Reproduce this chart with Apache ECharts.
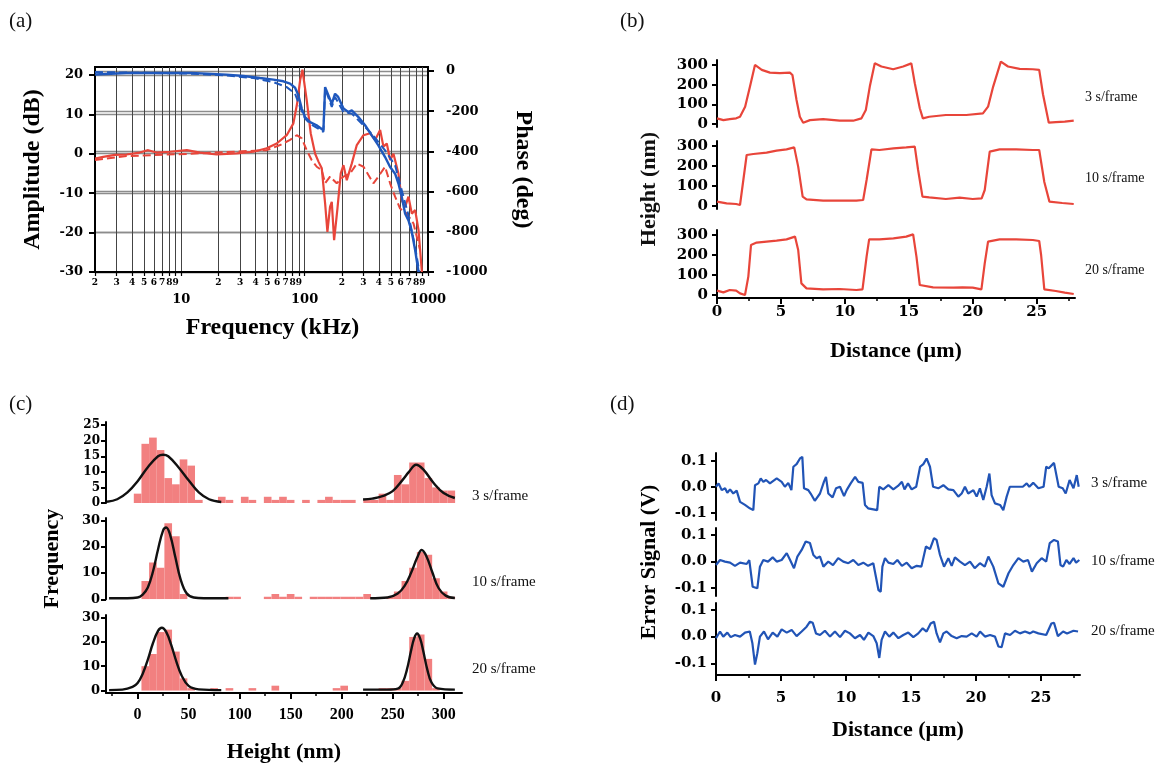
<!DOCTYPE html>
<html>
<head>
<meta charset="utf-8">
<script src="https://cdn.jsdelivr.net/npm/echarts@6/dist/echarts.min.js"></script>
<style>
html, body { margin: 0; padding: 0; background: #fff; }
#chart { width: 1164px; height: 764px; }
</style>
</head>
<body>
<div id="chart"></div>
<script>
// ------------------------------------------ data: (a) frequency response
var freqTicks = [2, 3, 4, 5, 6, 7, 8, 9, 10, 20, 30, 40, 50, 60, 70, 80, 90, 100,
                 200, 300, 400, 500, 600, 700, 800, 900, 1000];
var decadeTicks = [10, 100, 1000];
var ampTicks = [-30, -20, -10, 0, 10, 20];
var phaseTicks = [-1000, -800, -600, -400, -200, 0];

// [kHz, dB]
var ampSolid = [[2, -1.2], [2.33, -0.8], [2.9, -0.3], [3.6, -0.2], [4.6, 0.3], [5.4, 0.9], [6.3, 0.3],
  [8.1, 0.5], [11.1, 0.9], [14.2, 0.3], [19.4, -0.2], [28.2, 0.1], [38.5, 0.5], [49.3, 1.4], [59.4, 2.6],
  [71.6, 4.7], [81.1, 7.7], [87, 12.8], [92, 18.7], [96, 21.3], [104, 13.6], [112, 5.2], [121.7, 0],
  [129.5, -2], [137.7, -3.7], [146.6, -12.6], [153, -19.8], [160.7, -13.5], [166, -12.2], [173.4, -21.9],
  [184.5, -13.9], [196.3, -5], [206.5, -2.9], [219.7, -6.7], [241, -2.5], [264.8, 2.2], [299.9, 4.7],
  [339.6, 5.2], [372.5, 3.5], [409.3, 6], [435.5, 1.8], [463.5, 2.6], [493.4, -1.6], [525, 0],
  [575.7, -5], [613.3, -11.8], [652.7, -13.5], [694.6, -10.9], [739.4, -15.2], [787, -14.3],
  [838, -19.4], [892, -30]];
var ampDashed = [[2, -1.6], [3.6, -0.6], [12, 0], [49.3, 0.9], [63.2, 2.2], [76.2, 3.5], [86.3, 4.7],
  [94.8, 3.9], [104, 0.9], [114, -1.6], [125.4, -3.3], [137.7, -4.2], [146.6, -7.5], [160.7, -5.8],
  [182, -7.5], [206.5, -5.8], [234, -5], [264.8, -2.5], [300, -3.3], [329, -5.4], [361, -7.5],
  [396, -5.8], [449, -3.3], [493, -7.5], [541, -10.9], [594, -13.9], [673, -15.2], [763, -17.7],
  [864, -24.5]];
// [kHz, deg]
var phaseSolid = [[2, -17], [3.6, -10], [6.5, -10], [12, -10], [16, -13], [23.3, -18], [31.9, -25],
  [43.5, -35], [55.8, -43], [67.3, -51], [76.2, -63], [83.7, -83], [89, -121], [94.8, -187],
  [100.8, -229], [110.7, -254], [125, -270], [142, -295], [146.6, -80], [156, -121], [166, -163],
  [176.5, -113], [187, -129], [206.5, -187], [226, -204], [241, -196], [273, -229], [309, -270],
  [350, -320], [396, -370], [449, -428], [493, -478], [541, -511], [576, -560], [613, -627],
  [653, -710], [695, -743], [739, -801], [787, -892], [838, -1000]];
var phaseDashed = [[2, -5], [12, -13], [23.3, -22], [38.5, -35], [55.8, -55], [71.6, -80], [83.7, -113],
  [91.8, -179], [100.8, -237], [110.7, -262], [125, -282], [142, -303], [146.6, -88], [166, -179],
  [176.5, -129], [206.5, -204], [241, -212], [273, -245], [350, -312], [449, -395], [541, -469],
  [613, -594], [695, -718], [787, -876], [850, -1000]];

// ------------------------------------------ data: (b) height profiles [um, nm]
var heightTicks = [0, 100, 200, 300];
var distTicks = [0, 5, 10, 15, 20, 25];
var distMinor = [2.5, 7.5, 12.5, 17.5, 22.5, 27.5];
var height3 = [[0, 29], [0.5, 20], [1.0, 25], [1.5, 29], [1.8, 37], [2.2, 88], [2.58, 190], [2.97, 300],
  [3.5, 275], [4.14, 261], [4.92, 258], [5.7, 261], [5.9, 249], [6.22, 122], [6.48, 37], [6.74, 7],
  [7.27, 20], [8.3, 25], [9.6, 17], [10.65, 17], [11.3, 29], [11.64, 71], [11.95, 190], [12.34, 308],
  [12.86, 292], [13.78, 278], [14.56, 292], [15.2, 308], [15.47, 207], [15.86, 80], [16.1, 29],
  [16.6, 37], [17.9, 46], [19.5, 46], [20.8, 54], [21.2, 88], [21.6, 190], [22.2, 317], [22.76, 292],
  [23.67, 280], [24.7, 278], [25.2, 275], [25.5, 150], [25.95, 7], [26.5, 10], [27.2, 12], [27.9, 17]];
var height10 = [[0, 22], [0.75, 13], [1.5, 10], [1.8, 5], [2.06, 130], [2.32, 255], [2.84, 260],
  [3.88, 267], [4.66, 277], [5.44, 283], [6.04, 293], [6.35, 197], [6.7, 47], [7.0, 33], [8.3, 27],
  [9.6, 27], [10.9, 27], [11.43, 30], [11.7, 130], [12.08, 283], [12.7, 280], [13.8, 288], [14.8, 293],
  [15.47, 297], [15.73, 180], [16.07, 47], [16.6, 43], [17.9, 35], [18.98, 42], [20.0, 35], [20.7, 38],
  [20.94, 80], [21.33, 272], [22.1, 283], [23.4, 283], [24.7, 280], [25.2, 280], [25.6, 120],
  [26.0, 22], [27.0, 15], [27.9, 10]];
var height20 = [[0, 22], [0.5, 13], [1.0, 25], [1.5, 22], [1.8, 8], [2.19, 0], [2.45, 92], [2.66, 250],
  [3.1, 262], [3.88, 267], [4.66, 272], [5.44, 278], [6.1, 292], [6.35, 225], [6.6, 58], [7.0, 33],
  [8.3, 28], [9.6, 30], [10.9, 25], [11.38, 28], [11.7, 192], [11.9, 278], [12.7, 278], [13.8, 283],
  [14.8, 292], [15.34, 303], [15.6, 192], [15.86, 50], [16.9, 38], [18.5, 37], [19.2, 38], [20.0, 37],
  [20.68, 28], [20.94, 158], [21.2, 267], [22.1, 278], [23.4, 278], [24.7, 275], [25.2, 270],
  [25.35, 200], [25.6, 28], [26.5, 20], [27.2, 12], [27.9, 5]];

// ------------------------------------------ data: (c) height histograms
var binWidth = 7.5;
var binCenters = [0, 7.5, 15, 22.5, 30, 37.5, 45, 52.5, 60, 67.5, 75, 82.5, 90, 97.5, 105, 112.5, 120,
  127.5, 135, 142.5, 150, 157.5, 165, 172.5, 180, 187.5, 195, 202.5, 210, 217.5, 225, 232.5, 240,
  247.5, 255, 262.5, 270, 277.5, 285, 292.5, 300, 307.5, 315];
var count3 = [3, 19, 21, 17, 8, 6, 14, 12, 1, 0, 0, 2, 1, 0, 2, 1, 0, 2, 1, 2, 1, 0, 1, 0, 1, 2, 1, 1,
  1, 0, 1, 1, 3, 1, 9, 6, 13, 13, 8, 5, 4, 4, 0];
var count10 = [0, 7, 14, 12, 29, 24, 2, 0, 0, 0, 0, 0, 1, 1, 0, 0, 0, 1, 2, 1, 2, 1, 0, 1, 1, 1, 1, 1,
  1, 1, 2, 0, 0, 1, 3, 7, 12, 18, 17, 8, 3, 1, 0];
var count20 = [0, 10, 15, 24, 25, 16, 5, 1, 0, 0, 1, 0, 1, 0, 0, 1, 0, 0, 2, 0, 0, 0, 0, 0, 0, 0, 1, 2,
  0, 0, 0, 0, 1, 1, 1, 4, 22, 23, 13, 1, 0, 0, 0];
var histTicks = [0, 50, 100, 150, 200, 250, 300];
var histMinor = [-25, 25, 75, 125, 175, 225, 275];
var freqTicks3 = [0, 5, 10, 15, 20, 25];
var freqTicks30 = [0, 10, 20, 30];
// gaussian fits [nm, count]
var fit3L = [[-30, 0.4], [-20, 1.2], [-10, 3.4], [0, 7], [10, 11.5], [20, 15], [25, 15.5], [30, 15],
  [40, 11.5], [50, 7.3], [60, 3.4], [70, 1.2], [82, 0.3]];
var fit3R = [[221, 1.1], [230, 1.4], [240, 2.2], [250, 3.8], [260, 7.5], [266, 10], [273, 12.3],
  [280, 10.8], [290, 6.5], [300, 3.2], [311, 1.6]];
var fit10L = [[-28, 0.4], [-10, 0.4], [0, 0.7], [5, 1.8], [10, 4.5], [15, 10.5], [20, 19], [25, 26.3],
  [28, 27.4], [32, 24.4], [37, 16], [42, 7.8], [48, 2.3], [55, 0.7], [65, 0.4], [89, 0.4]];
var fit10R = [[228, 0.4], [245, 0.7], [255, 2.2], [262, 5.3], [268, 10], [274, 15.8], [278.5, 18.8],
  [283, 16.5], [289, 10.2], [295, 4.3], [302, 1.4], [311, 0.5]];
var fit20L = [[-28, 0.2], [-15, 0.4], [-5, 1.5], [0, 3.1], [5, 6.9], [10, 12.7], [15, 19.4], [20, 24.5],
  [23.7, 25.8], [28, 24.1], [33, 18.6], [38, 11.9], [43, 6.3], [50, 1.9], [60, 0.5], [82, 0.2]];
var fit20R = [[221, 0.4], [245, 0.4], [255, 0.8], [260, 3.4], [264, 8.6], [268, 16.2], [271, 21.3],
  [274, 23.4], [277, 21.3], [280, 16.2], [284, 8.6], [288, 3.4], [294, 0.9], [311, 0.4]];

// ------------------------------------------ data: (d) error signal [um, V]
var errTicks = [-0.1, 0, 0.1];
var err3 = [[0, 0], [0.2, 0.013], [0.44, -0.013], [0.7, -0.006], [0.87, -0.023], [1.08, -0.01],
  [1.33, -0.026], [1.59, -0.015], [1.85, -0.058], [2.23, -0.07], [2.6, -0.083], [2.87, -0.09],
  [3.0, 0.006], [3.26, 0.013], [3.44, 0.032], [3.64, 0.019], [3.85, 0.026], [4.15, 0.013],
  [4.67, 0.032], [5.05, 0.019], [5.3, 0], [5.56, 0.015], [5.8, -0.013], [5.95, 0.077], [6.2, 0.087],
  [6.46, 0.109], [6.64, 0.115], [6.77, -0.006], [7.1, -0.013], [7.28, -0.026], [7.6, -0.054],
  [8.0, -0.026], [8.3, 0.019], [8.46, 0.038], [8.64, -0.026], [8.97, -0.041], [9.23, -0.006],
  [9.54, 0], [9.85, -0.036], [10.05, -0.013], [10.36, 0.013], [10.7, 0.038], [10.95, 0.019],
  [11.28, 0.015], [11.46, -0.07], [11.7, -0.083], [12.1, -0.087], [12.4, -0.09], [12.56, 0],
  [12.87, -0.01], [13.26, 0.006], [13.64, -0.01], [14.0, 0.003], [14.3, 0.019], [14.5, -0.01],
  [14.77, 0.013], [15.05, -0.01], [15.4, 0], [15.7, 0.077], [15.95, 0.087], [16.2, 0.109],
  [16.46, 0.077], [16.7, 0], [17.1, -0.006], [17.49, 0.006], [17.87, -0.01], [18.26, -0.013],
  [18.64, -0.038], [18.9, -0.026], [19.15, 0], [19.4, -0.026], [19.8, -0.013], [20.05, -0.038],
  [20.3, -0.006], [20.56, -0.051], [20.82, 0], [21.03, 0.051], [21.2, -0.032], [21.46, -0.064],
  [21.85, -0.07], [22.1, -0.09], [22.36, -0.038], [22.6, 0], [23.4, 0], [23.6, 0], [23.9, 0.013],
  [24.1, 0], [24.4, 0.015], [24.8, -0.006], [25.2, 0], [25.4, 0.077], [25.6, 0.071], [26.0, 0.092],
  [26.15, 0.096], [26.36, 0], [26.67, -0.006], [26.9, -0.026], [27.2, 0.026], [27.5, -0.006],
  [27.75, 0.045], [27.9, 0]];
var err10 = [[0, -0.013], [0.31, 0.006], [0.69, 0], [1.08, -0.004], [1.46, -0.016], [1.85, -0.004],
  [2.36, -0.009], [2.56, 0.006], [2.82, -0.095], [3.18, -0.101], [3.38, -0.019], [3.64, 0.006],
  [4.0, 0], [4.36, 0.016], [4.67, 0], [5.05, 0.006], [5.44, 0.032], [5.7, 0.006], [6.0, -0.025],
  [6.26, 0.019], [6.59, 0.044], [6.9, 0.076], [7.23, 0.07], [7.49, 0.025], [7.74, 0.013], [8.0, 0.019],
  [8.26, -0.019], [8.64, 0], [9.0, -0.013], [9.4, 0.013], [9.79, 0], [10.18, -0.006], [10.56, 0.006],
  [10.95, -0.013], [11.33, -0.004], [11.7, -0.016], [12.1, -0.006], [12.3, -0.057], [12.5, -0.108],
  [12.67, -0.114], [12.8, -0.019], [13.0, 0.013], [13.26, -0.004], [13.64, -0.009], [13.95, 0.006],
  [14.3, -0.016], [14.67, -0.004], [15.05, -0.025], [15.44, -0.016], [15.8, -0.019], [16.15, 0.057],
  [16.46, 0.047], [16.77, 0.089], [16.97, 0.082], [17.23, 0.025], [17.54, -0.019], [17.87, 0.013],
  [18.13, -0.016], [18.38, 0.016], [18.77, 0], [19.15, -0.013], [19.54, 0], [19.9, -0.025],
  [20.3, -0.006], [20.67, -0.019], [20.95, 0.019], [21.33, -0.019], [21.72, -0.082], [22.1, -0.095],
  [22.5, -0.044], [22.87, -0.013], [23.26, 0.013], [23.64, 0], [24.0, 0.006], [24.3, -0.038],
  [24.67, -0.006], [25.05, 0.013], [25.4, 0], [25.67, 0.07], [26.0, 0.082], [26.3, 0.076],
  [26.5, -0.013], [26.7, -0.019], [26.95, 0.006], [27.2, -0.009], [27.5, 0.013], [27.7, -0.004],
  [27.95, 0.006]];
var err20 = [[0, -0.006], [0.31, 0.019], [0.56, 0], [0.87, 0.015], [1.13, -0.002], [1.46, 0.006],
  [1.85, 0], [2.23, 0.015], [2.6, 0.019], [2.8, -0.025], [3.0, -0.105], [3.18, -0.062], [3.38, 0],
  [3.69, 0.019], [4.0, -0.01], [4.36, 0.015], [4.72, 0], [5.05, 0.027], [5.44, 0.015], [5.82, 0.025],
  [6.2, 0.002], [6.59, 0.019], [6.97, 0.037], [7.23, 0.056], [7.44, 0.052], [7.69, 0.012], [8.0, 0.006],
  [8.38, 0.022], [8.77, 0], [9.15, 0.019], [9.54, -0.002], [9.92, 0.022], [10.3, 0.012], [10.69, -0.006],
  [11.08, 0.006], [11.38, -0.012], [11.72, 0.015], [12.1, 0.002], [12.36, -0.025], [12.56, -0.08],
  [12.74, -0.012], [13.0, 0.019], [13.33, 0], [13.64, 0.015], [14.03, -0.006], [14.41, 0.006],
  [14.79, 0.015], [15.18, -0.002], [15.56, 0.012], [15.9, 0.031], [16.2, 0.019], [16.51, 0.049],
  [16.77, 0.056], [16.97, 0.012], [17.23, -0.022], [17.49, 0.012], [17.74, 0.019], [18.13, 0.002],
  [18.51, -0.006], [18.9, 0.002], [19.28, 0], [19.67, 0.012], [20.05, 0], [20.31, 0.019], [20.69, 0],
  [21.08, 0.006], [21.46, 0], [21.72, -0.037], [21.97, -0.04], [22.23, 0.012], [22.62, 0.006],
  [23.0, 0.022], [23.38, 0.012], [23.77, 0.019], [24.15, 0.012], [24.4, 0.019], [24.8, 0.012],
  [25.4, 0.006], [25.8, 0.049], [26.0, 0.052], [26.3, 0.002], [26.7, 0.019], [27.0, 0.012],
  [27.5, 0.022], [27.85, 0.019]];

var rateLabels = ['3 s/frame', '10 s/frame', '20 s/frame'];

// ------------------------------------------ styles
var RED = '#e8453a', BLUE = '#1f58bd', DBLUE = '#2154b6', PINK = '#f28080';
var SERIF = 'Liberation Serif', TICKF = 'DejaVu Serif';

function tickLabel(size, extra) {
  var o = { fontFamily: TICKF, fontWeight: 'bold', fontSize: size, color: '#000' };
  for (var k in extra) o[k] = extra[k];
  return o;
}
function nameStyle(size, extra) {
  var o = { fontFamily: SERIF, fontWeight: 'bold', fontSize: size, color: '#000' };
  for (var k in extra) o[k] = extra[k];
  return o;
}
var axLine = { show: true, onZero: false, lineStyle: { color: '#000', width: 2 } };
function log10pts(arr) { return arr.map(function (p) { return [Math.log10(p[0]), p[1]]; }); }
var plain = function (v) { return String(v); };

var logTicks = freqTicks.map(Math.log10);
var logMinorLabels = freqTicks.filter(function (f) { return decadeTicks.indexOf(f) < 0; }).map(Math.log10);
var logDecades = decadeTicks.map(Math.log10);

// ------------------------------------------ grids
var grids = [
  { left: 95, top: 67, width: 333, height: 205, show: true, borderColor: '#000', borderWidth: 2 },
  { left: 717, top: 60, width: 358, height: 67 },
  { left: 717, top: 141, width: 358, height: 68 },
  { left: 717, top: 230, width: 358, height: 68 },
  { left: 106, top: 422, width: 356, height: 81 },
  { left: 106, top: 518, width: 356, height: 81.3 },
  { left: 106, top: 615, width: 356, height: 84.3 },
  { left: 716, top: 453, width: 364, height: 67 },
  { left: 716, top: 528, width: 364, height: 68 },
  { left: 716, top: 603, width: 364, height: 72 }
];

// ------------------------------------------ x axes
function hiddenX(g, min, max) { return { type: 'value', gridIndex: g, min: min, max: max, position: 'bottom', show: false }; }
function minorX(g, min, max, vals) {
  return { type: 'value', gridIndex: g, min: min, max: max, position: 'bottom',
    axisLine: { show: false, onZero: false }, axisLabel: { show: false }, splitLine: { show: false },
    axisTick: { show: true, customValues: vals, length: 3, lineStyle: { color: '#000', width: 1.5 } } };
}
var xAxes = [
  // 0: (a) minor digits + grid
  { type: 'value', gridIndex: 0, min: Math.log10(2), max: 3, position: 'bottom',
    axisLine: axLine,
    axisTick: { show: true, customValues: logTicks, length: 4, lineStyle: { color: '#000', width: 1.2 } },
    axisLabel: { customValues: logMinorLabels, margin: 6,
      formatter: function (v) { return String(Math.round(Math.pow(10, v))).charAt(0); },
      fontFamily: TICKF, fontWeight: 'bold', fontSize: 9, color: '#000' },
    splitLine: { show: true, lineStyle: { color: '#444', width: 1 } },
    name: 'Frequency (kHz)', nameLocation: 'middle', nameGap: 44,
    nameTextStyle: nameStyle(24, { padding: [0, 0, 0, 22] }) },
  // 1: (a) decades
  { type: 'value', gridIndex: 0, min: Math.log10(2), max: 3, position: 'bottom',
    axisLine: { show: false, onZero: false }, axisTick: { show: false }, splitLine: { show: false },
    axisLabel: { customValues: logDecades, margin: 21,
      formatter: function (v) { return String(Math.round(Math.pow(10, v))); },
      fontFamily: TICKF, fontWeight: 'bold', fontSize: 13, color: '#000' } },
  // 2-5: (b)
  hiddenX(1, 0, 28), hiddenX(2, 0, 28),
  { type: 'value', gridIndex: 3, min: 0, max: 28, position: 'bottom', axisLine: axLine,
    axisTick: { show: true, customValues: distTicks, length: 6, lineStyle: { color: '#000', width: 2 } },
    axisLabel: tickLabel(15, { customValues: distTicks, margin: 7 }),
    splitLine: { show: false },
    name: 'Distance (\u00b5m)', nameLocation: 'middle', nameGap: 42, nameTextStyle: nameStyle(22) },
  minorX(3, 0, 28, distMinor),
  // 6-9: (c)
  hiddenX(4, -31, 318), hiddenX(5, -31, 318),
  { type: 'value', gridIndex: 6, min: -31, max: 318, position: 'bottom', axisLine: axLine,
    axisTick: { show: true, customValues: histTicks, length: 6, lineStyle: { color: '#000', width: 2 } },
    axisLabel: { customValues: histTicks, margin: 14, fontFamily: SERIF, fontWeight: 'bold', fontSize: 16, color: '#000' },
    splitLine: { show: false },
    name: 'Height (nm)', nameLocation: 'middle', nameGap: 48, nameTextStyle: nameStyle(22) },
  minorX(6, -31, 318, histMinor),
  // 10-13: (d)
  hiddenX(7, 0, 28), hiddenX(8, 0, 28),
  { type: 'value', gridIndex: 9, min: 0, max: 28, position: 'bottom', axisLine: axLine,
    axisTick: { show: true, customValues: distTicks, length: 6, lineStyle: { color: '#000', width: 2 } },
    axisLabel: tickLabel(15, { customValues: distTicks, margin: 16 }),
    splitLine: { show: false },
    name: 'Distance (\u00b5m)', nameLocation: 'middle', nameGap: 44, nameTextStyle: nameStyle(22) },
  minorX(9, 0, 28, distMinor)
];

// ------------------------------------------ y axes
function stackY(g, min, max, ticks, size, margin, fmt, extra) {
  var o = { type: 'value', gridIndex: g, min: min, max: max, position: 'left', axisLine: axLine,
    axisTick: { show: true, customValues: ticks, length: 5, lineStyle: { color: '#000', width: 2 } },
    axisLabel: tickLabel(size, { customValues: ticks, margin: margin, formatter: fmt || plain }),
    splitLine: { show: false } };
  for (var k in extra) o[k] = extra[k];
  return o;
}
var oneDec = function (v) { return v.toFixed(1); };
var yAxes = [
  // 0-1: (a)
  { type: 'value', gridIndex: 0, min: -30, max: 22, position: 'left',
    axisLine: axLine,
    axisTick: { show: true, customValues: ampTicks, length: 6, lineStyle: { color: '#000', width: 2 } },
    axisLabel: tickLabel(13, { customValues: ampTicks, margin: 12, formatter: plain }),
    splitLine: { show: true, lineStyle: { color: '#8c8c8c', width: 1.3 } },
    name: 'Amplitude (dB)', nameLocation: 'middle', nameGap: 50, nameTextStyle: nameStyle(24) },
  { type: 'value', gridIndex: 0, min: -1000, max: 20, position: 'right',
    axisLine: axLine,
    axisTick: { show: true, customValues: phaseTicks, length: 6, lineStyle: { color: '#000', width: 2 } },
    axisLabel: tickLabel(13, { customValues: phaseTicks, margin: 18, formatter: plain }),
    splitLine: { show: true, lineStyle: { color: '#8c8c8c', width: 1.3 } },
    name: 'Phase (deg)', nameLocation: 'middle', nameGap: 83, nameRotate: -90, nameTextStyle: nameStyle(24) },
  // 2-4: (b)
  stackY(1, -15, 325, heightTicks, 15, 9),
  stackY(2, -15, 325, heightTicks, 15, 9),
  stackY(3, -15, 325, heightTicks, 15, 9),
  // 5-7: (c)
  stackY(4, 0, 26, freqTicks3, 12, 6),
  stackY(5, 0, 31, freqTicks30, 13, 6, null,
    { name: 'Frequency', nameLocation: 'middle', nameGap: 43, nameTextStyle: nameStyle(22) }),
  stackY(6, -1, 31, freqTicks30, 13, 6),
  // 8-10: (d)
  stackY(7, -0.128, 0.13, errTicks, 15, 9, oneDec),
  stackY(8, -0.13, 0.127, errTicks, 15, 9, oneDec,
    { name: 'Error Signal (V)', nameLocation: 'middle', nameGap: 56, nameTextStyle: nameStyle(22) }),
  stackY(9, -0.144, 0.126, errTicks, 15, 9, oneDec)
];

// ------------------------------------------ series
function line(data, xi, yi, color, width, dashed, smooth) {
  return { type: 'line', data: data, xAxisIndex: xi, yAxisIndex: yi, showSymbol: false, symbol: 'none',
    smooth: smooth || false, clip: true, z: 3,
    lineStyle: { color: color, width: width, type: dashed ? 'dashed' : 'solid' } };
}
function hist(counts, xi, yi) {
  var data = binCenters.map(function (c, i) { return [c, counts[i]]; });
  return { type: 'custom', xAxisIndex: xi, yAxisIndex: yi, data: data, clip: true, z: 2,
    encode: { x: 0, y: 1 },
    renderItem: function (params, api) {
      var c = api.value(0), n = api.value(1);
      if (!n) return null;
      var p0 = api.coord([c - binWidth / 2, n]);
      var p1 = api.coord([c + binWidth / 2, 0]);
      return { type: 'rect', shape: { x: p0[0], y: p0[1], width: p1[0] - p0[0], height: p1[1] - p0[1] },
        style: { fill: PINK } };
    } };
}

var series = [
  line(log10pts(ampDashed), 0, 0, RED, 2, true),
  line(log10pts(ampSolid), 0, 0, RED, 2.2, false),
  line(log10pts(phaseDashed), 0, 1, BLUE, 2, true),
  line(log10pts(phaseSolid), 0, 1, BLUE, 2.4, false),
  line(height3, 2, 2, RED, 2.2), line(height10, 3, 3, RED, 2.2), line(height20, 4, 4, RED, 2.2),
  hist(count3, 6, 5), hist(count10, 7, 6), hist(count20, 8, 7),
  line(fit3L, 6, 5, '#111', 2.4, false, 0.4), line(fit3R, 6, 5, '#111', 2.4, false, 0.4),
  line(fit10L, 7, 6, '#111', 2.4, false, 0.4), line(fit10R, 7, 6, '#111', 2.4, false, 0.4),
  line(fit20L, 8, 7, '#111', 2.4, false, 0.4), line(fit20R, 8, 7, '#111', 2.4, false, 0.4),
  line(err3, 10, 8, DBLUE, 2.2), line(err10, 11, 9, DBLUE, 2.2), line(err20, 12, 10, DBLUE, 2.2)
];

// ------------------------------------------ texts
function txt(s, x, y, font, rot) {
  return { type: 'text', x: x, y: y, rotation: rot || 0, silent: true,
    style: { text: s, font: font, fill: '#111', align: rot ? 'center' : 'left', verticalAlign: 'middle' } };
}
var panelFont = '21px "Liberation Serif"';
var rateFont = '15px "Liberation Serif"';
var graphics = [
  txt('(a)', 9, 21, panelFont), txt('(b)', 620, 21, panelFont),
  txt('(c)', 9, 404, panelFont), txt('(d)', 610, 404, panelFont),
  txt('Height (nm)', 649, 189, 'bold 22px "Liberation Serif"', Math.PI / 2),
  txt(rateLabels[0], 1085, 97, '14px "Liberation Serif"'),
  txt(rateLabels[1], 1085, 178, '14px "Liberation Serif"'),
  txt(rateLabels[2], 1085, 270, '14px "Liberation Serif"'),
  txt(rateLabels[0], 472, 496, rateFont), txt(rateLabels[1], 472, 582, rateFont),
  txt(rateLabels[2], 472, 669, rateFont),
  txt(rateLabels[0], 1091, 483, rateFont), txt(rateLabels[1], 1091, 561, rateFont),
  txt(rateLabels[2], 1091, 631, rateFont)
];

var myChart = echarts.init(document.getElementById('chart'));
myChart.setOption({
  animation: false,
  backgroundColor: '#fff',
  textStyle: { fontFamily: SERIF },
  grid: grids,
  xAxis: xAxes,
  yAxis: yAxes,
  series: series,
  graphic: graphics
});
</script>
</body>
</html>
